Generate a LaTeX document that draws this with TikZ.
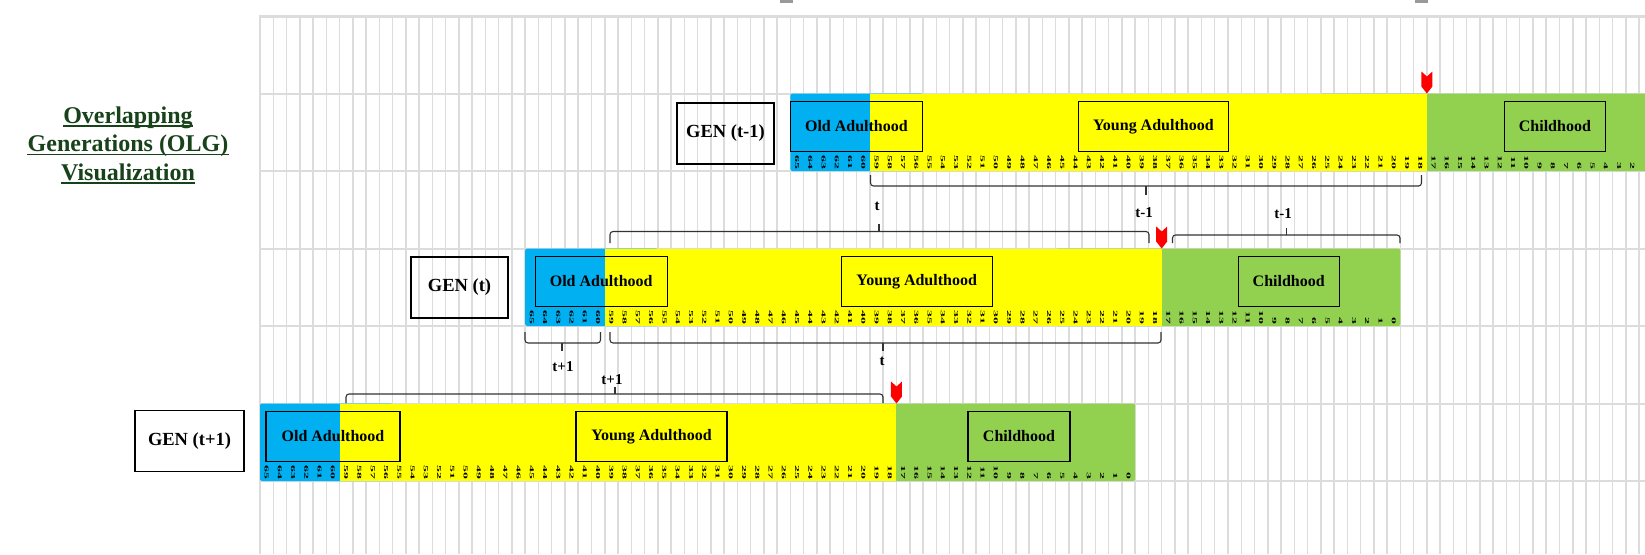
\documentclass[tikz,border=0pt]{standalone}
\usepackage{fontspec}
\setmainfont{Liberation Serif}
\usepackage{graphicx}
\usetikzlibrary{positioning}
\definecolor{oldblue}{HTML}{00B0F0}
\definecolor{youngyellow}{HTML}{FFFF00}
\definecolor{childgreen}{HTML}{92D050}
\definecolor{gridgray}{HTML}{DCDCDC}
\definecolor{titlegreen}{HTML}{17421A}
\definecolor{markred}{HTML}{FF0000}
\def\cw{13.26}
\tikzset{
  agelabel/.style={rotate=-90, anchor=east, inner sep=0pt, font=\fontsize{6}{6}\selectfont\bfseries},
  stagebox/.style={draw, line width=1.3pt, minimum height=50pt, inner sep=0pt, font=\fontsize{16}{18}\selectfont\bfseries},
  genbox/.style={draw, line width=1.2pt, minimum width=97pt, minimum height=61pt, inner sep=0pt, font=\fontsize{18.5}{20}\selectfont\bfseries},
  spanline/.style={line width=1.1pt, draw=black!80, rounded corners=3pt},
  spanlabel/.style={inner sep=0pt, font=\fontsize{15}{16}\selectfont\bfseries},
  titleline/.style={anchor=base, inner sep=0pt, text=titlegreen, font=\fontsize{24}{28}\selectfont\bfseries}
}
% one generation bar: #1 left edge, #2 top, #3 name
\newcommand{\drawgen}[3]{%
  \fill[childgreen, rounded corners=2pt] ({#1+40*\cw},#2) rectangle ({#1+66*\cw},#2+77.5);
  \fill[oldblue, rounded corners=2pt] (#1,#2) rectangle ({#1+10*\cw},#2+77.5);
  \fill[youngyellow] ({#1+6*\cw},#2) rectangle ({#1+48*\cw},#2+77.5);
  \foreach \a in {0,...,65}{
    \pgfmathsetmacro{\ax}{#1+(65.5-\a)*\cw}
    \ifdim\ax pt<1640pt
      \node[agelabel] (age-#3-\a) at (\ax,#2+76) {\scalebox{2.3}[1]{\a}};
    \fi}
  % red marker at the end of young adulthood
  \fill[markred] ({#1+48*\cw-5.5},#2-22) -- ({#1+48*\cw},#2-17) -- ({#1+48*\cw+5.5},#2-22)
    -- ({#1+48*\cw+5.5},#2-7) -- ({#1+48*\cw},#2) -- ({#1+48*\cw-5.5},#2-7) -- cycle;
}
\begin{document}
\begin{tikzpicture}[x=1pt,y=-1pt]
\useasboundingbox (0,0) rectangle (1645,554);
\clip (0,0) rectangle (1645,554);
\fill[white] (0,0) rectangle (1645,554);
% grid
\foreach \i in {0,...,104}
  \draw[gridgray, line width=1.5pt] ({260+\i*\cw},16) -- ({260+\i*\cw},554);
\foreach \j in {0,...,6}
  \draw[gridgray, line width=2pt] (259,{16+\j*77.5}) -- (1645,{16+\j*77.5});
\draw[gridgray, line width=3pt] (259,16) -- (1645,16);
\fill[black!40] (780,0) rectangle (793,2.5);
\fill[black!40] (1415,0) rectangle (1428,2.5);

% title
\node[titleline] (title1) at (128,123) {Overlapping};
\node[titleline] (title2) at (128,151.5) {Generations (OLG)};
\node[titleline] (title3) at (128,180) {Visualization};
\foreach \n in {title1,title2,title3}
  \draw[titlegreen, line width=1.4pt] ([yshift=-3pt]\n.base west) -- ([yshift=-3pt]\n.base east);

% GEN (t-1)
\drawgen{790.4}{93.5}{tm}
\node[genbox] (gen-tm) at (725.5,133.5) {GEN (t-1)};
\node[stagebox, minimum width=132pt] (old-tm) at (856.4,126.5) {Old Adulthood};
\node[stagebox, minimum width=150pt] (young-tm) at (1153.4,126.5) {Young Adulthood};
\node[stagebox, minimum width=101pt] (child-tm) at (1554.9,126.5) {Childhood};

% GEN (t)
\drawgen{525.2}{248.5}{t}
\node[genbox] (gen-t) at (459.5,287.5) {GEN (t)};
\node[stagebox, minimum width=132pt] (old-t) at (601.2,281.5) {Old Adulthood};
\node[stagebox, minimum width=151pt] (young-t) at (916.7,281.5) {Young Adulthood};
\node[stagebox, minimum width=101pt] (child-t) at (1288.7,281.5) {Childhood};

% GEN (t+1)
\drawgen{260}{403.5}{tp}
\node[genbox, minimum width=109pt] (gen-tp) at (189.5,441) {GEN (t+1)};
\node[stagebox, minimum width=134pt] (old-tp) at (333,436.5) {Old Adulthood};
\node[stagebox, minimum width=151pt] (young-tp) at (651.5,436.5) {Young Adulthood};
\node[stagebox, minimum width=102pt] (child-tp) at (1019,436.5) {Childhood};

% spans
\draw[spanline] (870.5,175) -- (870.5,186) -- (1421.5,186) -- (1421.5,175);
\draw[spanline] (1146,186) -- (1146,195);
\node[spanlabel] (span-a) at (1144,213) {t-1};
\draw[spanline] (610,243) -- (610,231.5) -- (1149,231.5) -- (1149,243);
\draw[spanline] (879,231.5) -- (879,224);
\node[spanlabel] (span-b) at (877,206) {t};
\draw[spanline] (1172.5,243) -- (1172.5,235) -- (1400,235) -- (1400,243);
\draw[spanline] (1286.5,235) -- (1286.5,228);
\node[spanlabel] (span-c) at (1283,214) {t-1};
\draw[spanline] (525,332) -- (525,343) -- (600.5,343) -- (600.5,332);
\draw[spanline] (562,343) -- (562,351);
\node[spanlabel] (span-d) at (563,367) {t+1};
\draw[spanline] (610,332) -- (610,343) -- (1161,343) -- (1161,332);
\draw[spanline] (883,343) -- (883,351);
\node[spanlabel] (span-e) at (882,361) {t};
\draw[spanline] (346,403) -- (346,394) -- (883,394) -- (883,403);
\draw[spanline] (615,394) -- (615,387);
\node[spanlabel] (span-f) at (612,380) {t+1};
\end{tikzpicture}
\end{document}
